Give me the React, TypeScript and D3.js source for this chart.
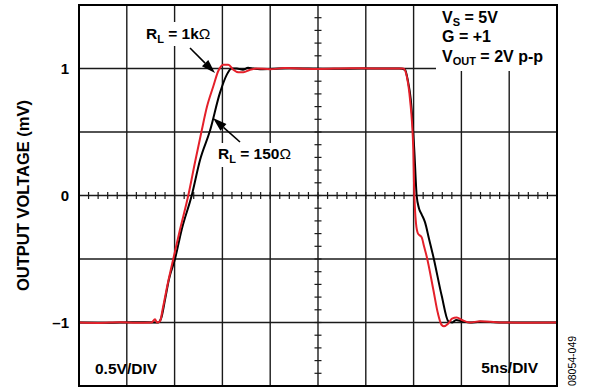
import React from "react";
import * as d3 from "d3";

// time in ns (5 ns/div), voltage in V (0.5 V/div)
const redTime = [0, 2, 4.3, 6, 7.6, 7.95, 8.16, 8.47, 8.79, 9.21, 9.86, 10.56, 11.43, 12.13, 12.83, 13.39, 14.05, 14.57, 15.09, 15.62, 16.14, 16.66, 17.19, 17.89, 18.59, 19.98, 21.5, 23.1, 25, 28.35, 31, 33.58, 33.93, 34.28, 34.62, 34.97, 35.04, 35.25, 35.46, 35.85, 36.09, 36.37, 37.06, 37.55, 37.94, 38.18, 38.6, 39.02, 39.51, 40.06, 40.9, 41.95, 44.04, 47, 50];
const redVolt = [-1.0, -1.003, -0.998, -1.002, -1.0, -0.975, -1.0, -0.99, -0.88, -0.72, -0.5, -0.27, 0, 0.26, 0.51, 0.7, 0.86, 0.98, 1.03, 1.03, 0.99, 0.97, 0.97, 0.99, 1.0, 0.995, 1.003, 1.0, 0.997, 1.002, 1.0, 1.0, 1.0, 0.94, 0.76, 0.36, 0.1, -0.22, -0.3, -0.33, -0.4, -0.48, -0.74, -0.93, -1.02, -1.03, -1.01, -0.97, -0.96, -0.98, -1.0, -0.99, -1.0, -1.002, -1.0];

const blackTime = [0, 3, 5.5, 8.26, 8.58, 9.0, 9.41, 10.04, 10.77, 11.79, 12.66, 13.7, 14.75, 15.45, 15.97, 16.5, 17.15, 17.68, 18.2, 18.93, 22, 26, 30, 33.5, 34.1, 34.41, 34.7, 35.07, 35.32, 35.56, 35.85, 36.19, 36.61, 37.06, 37.94, 38.63, 39.02, 39.44, 40.06, 40.9, 41.95, 45, 50];
const blackVolt = [-1.0, -1.002, -0.998, -1.0, -0.97, -0.82, -0.66, -0.5, -0.26, 0, 0.28, 0.51, 0.81, 0.95, 1.0, 1.0, 0.99, 1.005, 1.0, 0.995, 1.002, 0.998, 1.0, 1.0, 0.99, 0.9, 0.76, 0.36, 0, -0.1, -0.15, -0.21, -0.34, -0.48, -0.79, -0.99, -1.0, -0.98, -0.99, -1.0, -0.995, -1.0, -1.0];

const yTickValues = [1, 0, -1];
const yTickLabels = ["1", "0", "–1"];
const xDomain = [0, 50];
const yDomain = [-1.5, 1.5];

const FONT = "'Liberation Sans', Arial, Helvetica, sans-serif";

export default function App() {
  const W = 590, H = 391;
  const x = d3.scaleLinear().domain(xDomain).range([79, 557]);
  const y = d3.scaleLinear().domain(yDomain).range([386, 5]);

  const xGrid = d3.range(0, 55, 5);
  const yGrid = d3.range(-1.5, 1.51, 0.5);
  const xMinor = d3.range(0, 50.01, 1);
  const yMinor = d3.range(-1.5, 1.501, 0.1);

  const mk = (t: number[], v: number[]) =>
    d3
      .line<[number, number]>()
      .x((d) => x(d[0]))
      .y((d) => y(d[1]))
      .curve(d3.curveMonotoneX)(t.map((tt, i) => [tt, v[i]] as [number, number])) || "";

  const redPath = mk(redTime, redVolt);
  const blackPath = mk(blackTime, blackVolt);

  const cx = x(25), cy = y(0);

  const arrow = (x1: number, y1: number, x2: number, y2: number) => {
    const ang = Math.atan2(y2 - y1, x2 - x1);
    const L = 14, Wd = 4.5;
    const bx = x2 - L * Math.cos(ang), by = y2 - L * Math.sin(ang);
    const px = -Math.sin(ang) * Wd, py = Math.cos(ang) * Wd;
    return (
      <g>
        <line x1={x1} y1={y1} x2={bx} y2={by} stroke="#000" strokeWidth={1.6} />
        <polygon points={`${x2},${y2} ${bx + px},${by + py} ${bx - px},${by - py}`} fill="#000" />
      </g>
    );
  };

  const FS = 15.5, SUB = 11;

  return (
    <svg width={W} height={H} style={{ position: "absolute", left: 0, top: 0 }} fontFamily={FONT}>
      <rect x={0} y={0} width={W} height={H} fill="#fff" />
      {xGrid.map((g) => (
        <line key={"gx" + g} x1={x(g)} x2={x(g)} y1={y(1.5)} y2={y(-1.5)} stroke="#1a1a1a" strokeWidth={1.4} />
      ))}
      {yGrid.map((g) => (
        <line key={"gy" + g} x1={x(0)} x2={x(50)} y1={y(g)} y2={y(g)} stroke="#1a1a1a" strokeWidth={1.4} />
      ))}
      {xMinor.map((m) => (
        <line key={"mx" + m} x1={x(m)} x2={x(m)} y1={cy - 3.5} y2={cy + 3.5} stroke="#1a1a1a" strokeWidth={1.2} />
      ))}
      {yMinor.map((m) => (
        <line key={"my" + m} x1={cx - 3.5} x2={cx + 3.5} y1={y(m)} y2={y(m)} stroke="#1a1a1a" strokeWidth={1.2} />
      ))}

      <rect x={436} y={5} width={120} height={66} fill="#fff" />
      <rect x={143} y={22} width={76} height={24} fill="#fff" />
      <rect x={214} y={143} width={86} height={24} fill="#fff" />

      <path d={blackPath} fill="none" stroke="#000" strokeWidth={2} strokeLinejoin="round" />
      <path d={redPath} fill="none" stroke="#e4202a" strokeWidth={2} strokeLinejoin="round" />

      <rect x={x(0)} y={y(1.5)} width={x(50) - x(0)} height={y(-1.5) - y(1.5)} fill="none" stroke="#000" strokeWidth={2} />

      {yTickValues.map((v, i) => (
        <text key={"yt" + v} x={69} y={y(v) + 5} textAnchor="end" fontSize={15} fontWeight="bold">
          {yTickLabels[i]}
        </text>
      ))}
      <text transform={`translate(29,${cy}) rotate(-90)`} textAnchor="middle" fontSize={16.5} fontWeight="bold">
        OUTPUT VOLTAGE (mV)
      </text>

      <text x={146} y={39} fontSize={FS} fontWeight="bold">
        R<tspan fontSize={SUB} dy={4}>L</tspan>
        <tspan dy={-4}> = 1k</tspan>
        <tspan fontWeight="normal">Ω</tspan>
      </text>
      <text x={218} y={159} fontSize={FS} fontWeight="bold">
        R<tspan fontSize={SUB} dy={4}>L</tspan>
        <tspan dy={-4}> = 150</tspan>
        <tspan fontWeight="normal">Ω</tspan>
      </text>
      {arrow(190, 48, 215, 73)}
      {arrow(240, 142, 213, 118)}

      <text x={442} y={23} fontSize={16} fontWeight="bold">
        V<tspan fontSize={SUB} dy={3}>S</tspan>
        <tspan dy={-3}> = 5V</tspan>
      </text>
      <text x={442} y={42} fontSize={16} fontWeight="bold">
        G = +1
      </text>
      <text x={442} y={62} fontSize={16} fontWeight="bold">
        V<tspan fontSize={SUB} dy={3}>OUT</tspan>
        <tspan dy={-3}> = 2V p-p</tspan>
      </text>

      <text x={95} y={374} fontSize={FS} fontWeight="bold">
        0.5V/DIV
      </text>
      <text x={538} y={373} fontSize={FS} fontWeight="bold" textAnchor="end">
        5ns/DIV
      </text>
      <text transform={`translate(576,361) rotate(-90)`} textAnchor="middle" fontSize={10.5}>
        08054-049
      </text>
    </svg>
  );
}
